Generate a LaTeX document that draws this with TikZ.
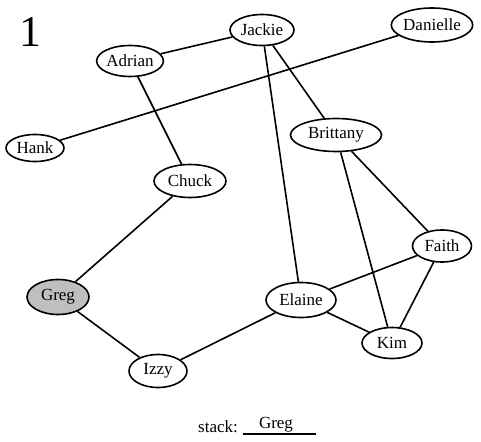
\documentclass[tikz,border=0pt]{standalone}
\usepackage{fontspec}
\setmainfont{Liberation Serif}
\usetikzlibrary{shapes.geometric}
\begin{document}
\begin{tikzpicture}[x=1pt,y=-1pt,
  vert/.style={ellipse,draw,line width=1.6pt,inner sep=0pt,font=\fontsize{17}{19}\selectfont},
  visited/.style={vert,fill=black!25},
  edge/.style={line width=1.6pt}]
\useasboundingbox (0,0) rectangle (481,441);
\node[font=\fontsize{44}{48}\selectfont,inner sep=0pt] (num) at (30,32) {1};
\node[vert,minimum width=64,minimum height=31] (jackie) at (262,30) {Jackie};
\node[vert,minimum width=63,minimum height=31] (adrian) at (130,61) {Adrian};
\node[vert,minimum width=74,minimum height=34] (danielle) at (432,25) {Danielle};
\node[vert,minimum width=58,minimum height=27] (hank) at (35,148) {Hank};
\node[vert,minimum width=72,minimum height=33] (chuck) at (190,181) {Chuck};
\node[vert,minimum width=91,minimum height=33] (brittany) at (336,135) {Brittany};
\node[vert,minimum width=59,minimum height=32] (faith) at (442,246) {Faith};
\node[vert,minimum width=70,minimum height=35] (elaine) at (301,300) {Elaine};
\node[vert,minimum width=60,minimum height=31] (kim) at (392,343) {Kim};
\node[visited,minimum width=62,minimum height=35] (greg) at (58,297) {Greg};
\node[vert,minimum width=58,minimum height=33] (izzy) at (158,371) {Izzy};
\draw[edge] (adrian) -- (jackie);
\draw[edge] (adrian) -- (chuck);
\draw[edge] (hank) -- (danielle);
\draw[edge] (jackie) -- (brittany);
\draw[edge] (jackie) -- (elaine);
\draw[edge] (brittany) -- (faith);
\draw[edge] (brittany) -- (kim);
\draw[edge] (chuck) -- (greg);
\draw[edge] (greg) -- (izzy);
\draw[edge] (izzy) -- (elaine);
\draw[edge] (elaine) -- (faith);
\draw[edge] (elaine) -- (kim);
\draw[edge] (faith) -- (kim);
\node[anchor=base west,inner sep=0pt,font=\fontsize{17}{19}\selectfont] (stacklbl) at (198,432) {stack:};
\node[anchor=base,inner sep=0pt,font=\fontsize{17}{19}\selectfont] (stackitem) at (276,428) {Greg};
\coordinate (ulA) at (243,434);
\coordinate (ulB) at (316,434);
\draw[line width=1.1pt] (ulA) -- (ulB);
\end{tikzpicture}
\end{document}
